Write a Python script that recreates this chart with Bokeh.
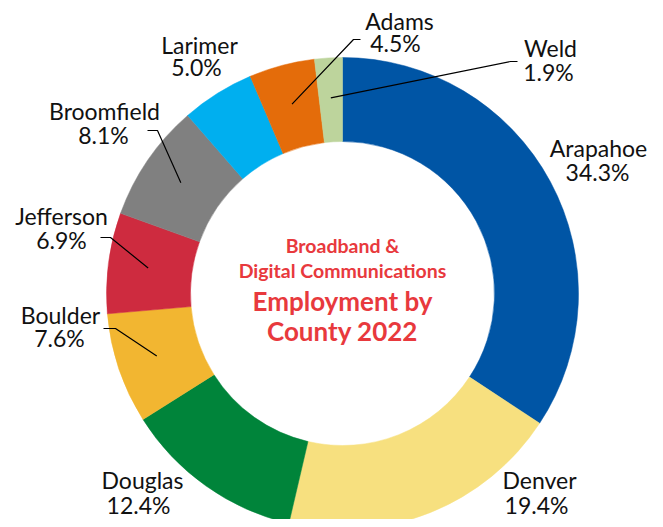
import math
from bokeh.plotting import figure
from bokeh.models import Range1d, ColumnDataSource
from bokeh.core.properties import value
from bokeh.embed import file_html
from bokeh.resources import INLINE

# ---- data ----
counties = ["Arapahoe", "Denver", "Douglas", "Boulder", "Jefferson",
            "Broomfield", "Larimer", "Adams", "Weld"]
shares = [34.3, 19.4, 12.4, 7.6, 6.9, 8.1, 5.0, 4.5, 1.9]
colors = ["#0055A5", "#F7E07F", "#00843A", "#F2B631", "#CE2B3F",
          "#808080", "#00AFEF", "#E46C0A", "#BDD49C"]
title_lines = ["Broadband &", "Digital Communications", "Employment by", "County 2022"]

# ---- layout (page pixel frame: x right, y down) ----
CX, CY = 342.0, 293.0
R_OUT, R_IN = 236.0, 152.0
R_LEAD = 196.0
TEXT_DY = 8  # renderer places alphabetic baselines slightly lower

label_pos = {  # name center x, name baseline y, pct center x, pct baseline y
    "Arapahoe": (598, 155, 597, 179),
    "Denver": (539, 487, 536, 512),
    "Douglas": (142, 487, 138, 512),
    "Boulder": (60, 322, 59, 345),
    "Jefferson": (61, 223, 61, 247),
    "Broomfield": (104, 118, 103, 142),
    "Larimer": (199, 52, 196, 74),
    "Adams": (399, 28, 395, 50),
    "Weld": (550, 55, 548, 79),
}
leaders = {  # elbow point, end point
    "Adams": ((353, 39), (360, 39)),
    "Weld": ((510, 61), (517, 61)),
    "Broomfield": ((157, 130), (147, 130)),
    "Jefferson": ((110, 237), (100, 237)),
    "Boulder": ((115, 328), (103, 328)),
}

W, H = 655, 519
p = figure(width=W, height=H, output_backend="svg", toolbar_location=None,
           x_range=Range1d(0, W), y_range=Range1d(-H, 0),
           min_border=0, outline_line_color=None, background_fill_color="white",
           border_fill_color="white")
p.axis.visible = False
p.grid.visible = False

total = sum(shares)
starts, ends, mids = [], [], []
cum = 0.0
for s in shares:
    a0 = math.pi / 2 - 2 * math.pi * cum / total
    cum += s
    a1 = math.pi / 2 - 2 * math.pi * cum / total
    starts.append(a0)
    ends.append(a1)
    mids.append((a0 + a1) / 2)

src = ColumnDataSource(dict(x=[CX] * len(shares), y=[-CY] * len(shares),
                            start=starts, end=ends, color=colors))
p.annular_wedge(x="x", y="y", inner_radius=R_IN, outer_radius=R_OUT,
                start_angle="start", end_angle="end", direction="clock",
                fill_color="color", line_color="color", line_width=0.5, source=src)

# leader lines
for name, (elbow, end) in leaders.items():
    i = counties.index(name)
    a = mids[i]
    sx = CX + R_LEAD * math.cos(a)
    sy = CY - R_LEAD * math.sin(a)
    p.line([sx, elbow[0], end[0]], [-sy, -elbow[1], -end[1]],
           line_color="black", line_width=1.2)

# labels
nx, ny, px_, py_, names, pcts = [], [], [], [], [], []
for name, s in zip(counties, shares):
    a, b, c, d = label_pos[name]
    nx.append(a); ny.append(-(b - TEXT_DY)); px_.append(c); py_.append(-(d - TEXT_DY))
    names.append(name); pcts.append(f"{s:.1f}%")
p.text(x=nx, y=ny, text=names, text_font=value("Lato"), text_font_size="23px",
       text_align="center", text_baseline="alphabetic", text_color="#111111")
p.text(x=px_, y=py_, text=pcts, text_font=value("Lato"), text_font_size="23px",
       text_align="center", text_baseline="alphabetic", text_color="#111111")

# center title
title_y = [253, 278, 308, 338]
title_sizes = ["19.5px", "19.5px", "26px", "26px"]
for t, yy, fs in zip(title_lines, title_y, title_sizes):
    p.text(x=[CX], y=[-(yy - TEXT_DY)], text=[t], text_font=value("Lato"),
           text_font_size=fs, text_font_style="bold", text_align="center",
           text_baseline="alphabetic", text_color="#E8393D")

open("out.html", "w").write(file_html(p, INLINE))
